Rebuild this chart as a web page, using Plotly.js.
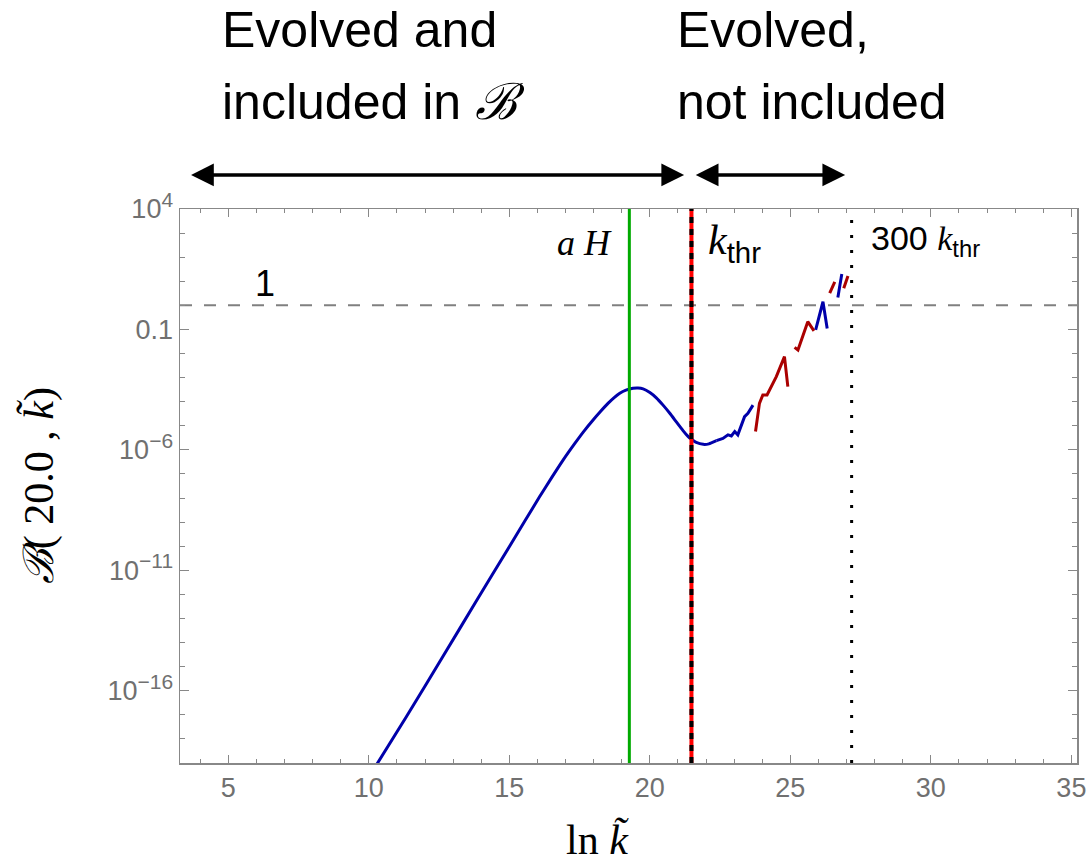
<!DOCTYPE html>
<html>
<head>
<meta charset="utf-8">
<script src="https://cdn.plot.ly/plotly-3.0.1.min.js"></script>
<style>html,body{margin:0;padding:0;background:#fff;}#chart{width:1088px;height:866px;}</style>
</head>
<body>
<div id="chart"></div>
<script>
// ---- data ----
// smooth part of the blue curve (ln k, B)
const smoothLnK = [10.1, 11.34, 12.64, 13.83, 15.02, 16.08, 16.5, 16.9, 17.33, 17.65, 17.98, 18.25, 18.51, 18.73, 18.93, 19.15, 19.40, 19.58, 19.76, 20.0, 20.23, 20.47, 20.71, 20.95, 21.18, 21.35, 21.48, 21.65, 21.90, 22.1, 22.37];
const smoothB   = [4.0e-20, 8.5e-18, 2.7e-15, 5.4e-13, 1.05e-10, 1.15e-8, 6.9e-8, 3.6e-7, 1.86e-6, 5.9e-6, 1.74e-5, 4.0e-5, 8.5e-5, 1.48e-4, 2.24e-4, 3.0e-4, 3.6e-4, 3.7e-4, 3.4e-4, 2.4e-4, 1.45e-4, 7.2e-5, 3.3e-5, 1.41e-5, 6.3e-6, 3.7e-6, 2.75e-6, 2.04e-6, 1.7e-6, 1.78e-6, 2.4e-6];
// noisy blue pieces (null separates pieces)
const blueLnK = [22.37, 22.60, 22.78, 22.90, 23.02, 23.13, 23.37, 23.49, 23.67, null, 25.90, 26.16, 26.31, null, 26.69, 26.83];
const blueB   = [2.4e-6, 3.0e-6, 4.2e-6, 3.8e-6, 5.75e-6, 4.2e-6, 2.4e-5, 3.3e-5, 7.2e-5, null, 0.095, 1.41, 0.11, null, 2.1, 20];
// red pieces
const redLnK = [23.76, 23.90, 24.02, 24.17, 24.50, 24.79, 24.91, null, 25.15, 25.27, 25.62, 25.84, null, 26.40, 26.58, null, 26.90, 27.05];
const redB   = [5.75e-6, 8.5e-5, 1.9e-4, 1.9e-4, 1.1e-3, 7.4e-3, 4.2e-4, null, 0.018, 0.014, 0.21, 0.087, null, 3.2, 9.5, null, 5.1, 16.6];
// reference lines
const lnK_aH = 19.27;
const lnK_thr = 21.48;
const lnK_300thr = 27.18;
const B_one = 1;
// axes
const xRange = [3.28, 35.2];
const yLogRange = [-19, 4];
const yTickVals = [1e-16, 1e-11, 1e-6, 0.1, 1e4];
const supStyle = '<sup><span style="font-size:21px">';
const yTickText = ['10' + supStyle + '−16</span></sup>', '10' + supStyle + '−11</span></sup>', '10' + supStyle + '−6</span></sup>', '0.1', '10' + supStyle + '4</span></sup>'];
const yMinorVals = [];
for (let e = -19; e <= 4; e++) yMinorVals.push(Math.pow(10, e));

const blue = 'rgb(0,0,170)';
const red = 'rgb(170,0,0)';
const gridGray = '#888888';
const tickFont = {family: 'Liberation Sans, Arial, sans-serif', size: 27, color: '#707070'};
const serif = 'Liberation Serif, DejaVu Serif, serif';
const sans = 'Liberation Sans, Arial, sans-serif';
const sansSpan = '<span style="font-family:Liberation Sans, Arial, sans-serif">';

const yTop = Math.pow(10, yLogRange[1]);
const yBot = Math.pow(10, yLogRange[0]);

const traces = [
  {x: smoothLnK, y: smoothB, mode: 'lines', line: {color: blue, width: 3, shape: 'spline', smoothing: 0.5}, hoverinfo: 'skip', showlegend: false},
  {x: blueLnK, y: blueB, mode: 'lines', line: {color: blue, width: 3}, connectgaps: false, hoverinfo: 'skip', showlegend: false},
  {x: redLnK, y: redB, mode: 'lines', line: {color: red, width: 3}, connectgaps: false, hoverinfo: 'skip', showlegend: false},
  {x: [xRange[0], xRange[1]], y: [B_one, B_one], mode: 'lines', line: {color: '#808080', width: 2, dash: '12px,12px'}, hoverinfo: 'skip', showlegend: false},
  {x: [lnK_aH, lnK_aH], y: [yBot, yTop], mode: 'lines', line: {color: 'rgb(0,170,0)', width: 3}, hoverinfo: 'skip', showlegend: false},
  {x: [lnK_thr, lnK_thr], y: [yBot, yTop], mode: 'lines', line: {color: 'rgb(255,0,0)', width: 4}, hoverinfo: 'skip', showlegend: false},
  {x: [lnK_thr, lnK_thr], y: [yBot, yTop], mode: 'lines', line: {color: 'black', width: 4, dash: '6px,6px'}, hoverinfo: 'skip', showlegend: false},
  {x: [lnK_300thr, lnK_300thr], y: [yBot, yTop], mode: 'lines', line: {color: 'black', width: 3, dash: '3px,12px'}, hoverinfo: 'skip', showlegend: false}
];

const arrowY = 1.0614;
const layout = {
  width: 1088, height: 866,
  margin: {l: 180, r: 11, t: 209, b: 103},
  paper_bgcolor: 'white', plot_bgcolor: 'white',
  showlegend: false,
  xaxis: {
    range: xRange, showgrid: false, zeroline: false,
    showline: true, linecolor: gridGray, linewidth: 1.5, mirror: 'ticks',
    ticks: 'inside', ticklen: 8, tickwidth: 1.2, tickcolor: gridGray,
    tickmode: 'linear', tick0: 0, dtick: 5,
    minor: {ticks: 'inside', ticklen: 4, tickwidth: 1, tickcolor: gridGray, dtick: 1, tick0: 0},
    tickfont: tickFont,
    title: {text: ''}
  },
  yaxis: {
    type: 'log', range: yLogRange, showgrid: false, zeroline: false,
    showline: true, linecolor: gridGray, linewidth: 1.5, mirror: 'ticks',
    ticks: 'inside', ticklen: 9, tickwidth: 1.2, tickcolor: gridGray,
    tickmode: 'array', tickvals: yTickVals, ticktext: yTickText,
    minor: {ticks: 'inside', ticklen: 5, tickwidth: 1, tickcolor: gridGray, tickmode: 'array', tickvals: yMinorVals},
    tickfont: tickFont,
    title: {text: ''}
  },
  annotations: [
    // axis titles
    {xref: 'paper', yref: 'paper', x: -0.157, y: 0.5, text: '<i>ℬ</i>( 20.0 , <i>k̃</i>)', textangle: -90, showarrow: false,
     font: {family: serif, size: 42, color: 'black'}, xanchor: 'center', yanchor: 'middle'},
    {xref: 'paper', yref: 'paper', x: 0.465, y: -0.139, text: 'ln <i>k̃</i>', showarrow: false,
     font: {family: serif, size: 42, color: 'black'}, xanchor: 'center', yanchor: 'middle'},
    // top headings
    {xref: 'x', yref: 'paper', x: 4.70, y: 1.3231, text: 'Evolved and', showarrow: false, xanchor: 'left', yanchor: 'middle',
     font: {family: sans, size: 50, color: 'black'}},
    {xref: 'x', yref: 'paper', x: 4.70, y: 1.1931, text: 'included in <i>ℬ</i>', showarrow: false, xanchor: 'left', yanchor: 'middle',
     font: {family: sans, size: 50, color: 'black'}},
    {xref: 'x', yref: 'paper', x: 20.88, y: 1.3231, text: 'Evolved,', showarrow: false, xanchor: 'left', yanchor: 'middle',
     font: {family: sans, size: 50, color: 'black'}},
    {xref: 'x', yref: 'paper', x: 20.88, y: 1.1931, text: 'not included', showarrow: false, xanchor: 'left', yanchor: 'middle',
     font: {family: sans, size: 50, color: 'black'}},
    // arrows
    {xref: 'x', yref: 'paper', axref: 'x', ayref: 'paper', x: 21.22, y: arrowY, ax: 3.62, ay: arrowY, text: '', showarrow: true,
     arrowside: 'end+start', arrowhead: 2, startarrowhead: 2, arrowsize: 1.3, startarrowsize: 1.3, arrowwidth: 3.5, arrowcolor: 'black'},
    {xref: 'x', yref: 'paper', axref: 'x', ayref: 'paper', x: 26.95, y: arrowY, ax: 21.58, ay: arrowY, text: '', showarrow: true,
     arrowside: 'end+start', arrowhead: 2, startarrowhead: 2, arrowsize: 1.3, startarrowsize: 1.3, arrowwidth: 3.5, arrowcolor: 'black'},
    // line labels
    {xref: 'x', yref: 'paper', x: 6.3, y: 0.865, text: '1', showarrow: false, xanchor: 'center', yanchor: 'middle',
     font: {family: sans, size: 36, color: 'black'}},
    {xref: 'x', yref: 'paper', x: 18.72, y: 0.9386, text: '<i>a H</i>', showarrow: false, xanchor: 'right', yanchor: 'middle',
     font: {family: serif, size: 36, color: 'black'}},
    {xref: 'x', yref: 'paper', x: 22.0, y: 0.9386, text: '<i>k</i><sub>' + sansSpan + 'thr</span></sub>', showarrow: false, xanchor: 'left', yanchor: 'middle',
     font: {family: serif, size: 42, color: 'black'}},
    {xref: 'x', yref: 'paper', x: 27.8, y: 0.944, text: sansSpan + '300 </span><i>k</i><sub>' + sansSpan + 'thr</span></sub>', showarrow: false, xanchor: 'left', yanchor: 'middle',
     font: {family: serif, size: 34, color: 'black'}}
  ]
};

Plotly.newPlot('chart', traces, layout, {displayModeBar: false, staticPlot: true});
</script>
</body>
</html>
